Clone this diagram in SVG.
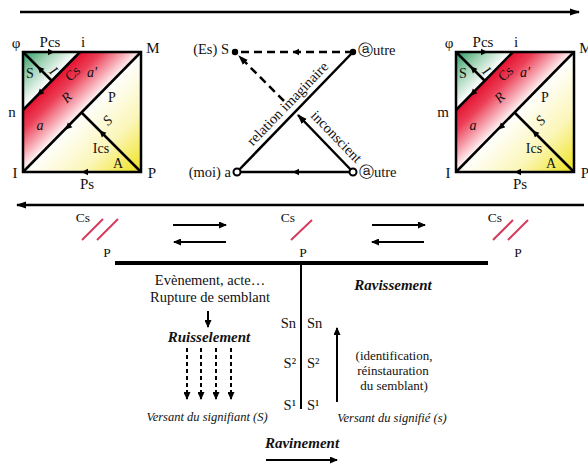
<svg xmlns="http://www.w3.org/2000/svg" xmlns:xlink="http://www.w3.org/1999/xlink" width="588" height="465" viewBox="0 0 588 465">
<style>
text{font-family:'Liberation Serif','Times New Roman',serif}
.t{font-size:14.5px;fill:#111}
.q{font-size:14px}
.o{font-size:15px}
.s{font-size:13.5px}
.m{font-size:14.5px}
.p{font-size:13px}
.it{font-style:italic}
.bi{font-style:italic;font-weight:bold;font-size:15px}
.sm{font-size:12.5px;font-style:italic}
.ln{stroke:#000;stroke-width:2.5;fill:none}
.thin{stroke:#000;stroke-width:2;fill:none}
.red{stroke:#d63a5c;stroke-width:2;fill:none}
.dash{stroke:#000;stroke-width:2.5;fill:none;stroke-dasharray:8,5}
.vd{stroke:#000;stroke-width:2;fill:none;stroke-dasharray:4,3}
</style>
<defs>
<linearGradient id="gGreen" gradientUnits="userSpaceOnUse" x1="37" y1="37" x2="66" y2="66">
<stop offset="0" stop-color="#2a9860"/><stop offset="0.5" stop-color="#9ed2b4"/><stop offset="1" stop-color="#ffffff"/>
</linearGradient>
<linearGradient id="gRed" gradientUnits="userSpaceOnUse" x1="66" y1="66" x2="97" y2="97">
<stop offset="0" stop-color="#e5102e"/><stop offset="0.35" stop-color="#ec4058"/><stop offset="1" stop-color="#fff6f6"/>
</linearGradient>
<linearGradient id="gYel" gradientUnits="userSpaceOnUse" x1="97" y1="97" x2="157" y2="157">
<stop offset="0" stop-color="#ffffff"/><stop offset="0.5" stop-color="#fbf6b8"/><stop offset="1" stop-color="#eee21a"/>
</linearGradient>
<path id="ah" d="M3.5,0 L-3,-3.2 L-3,3.2 Z" fill="#000"/>
<marker id="arr" markerWidth="10" markerHeight="8" refX="9" refY="4" orient="auto" markerUnits="userSpaceOnUse">
<path d="M0,0.5 L10,4 L0,7.5 Z" fill="#000"/>
</marker>
<marker id="arrS" markerWidth="8" markerHeight="7" refX="7" refY="3.5" orient="auto" markerUnits="userSpaceOnUse">
<path d="M0,0 L8,3.5 L0,7 Z" fill="#000"/>
</marker>
<g id="sqArt">
<polygon points="23,52 80,52 23,110" fill="url(#gGreen)"/>
<polygon points="23,110 80,52 141,52 23,172" fill="url(#gRed)"/>
<polygon points="23,172 141,172 141,52" fill="url(#gYel)"/>
<rect x="23" y="52" width="118" height="120" class="ln"/>
<line x1="23" y1="172" x2="141" y2="52" class="ln"/>
<line x1="23" y1="110" x2="80" y2="52" class="ln"/>
<line x1="23" y1="52" x2="51.5" y2="80.5" class="ln"/>
<line x1="141" y1="172" x2="81.5" y2="112.5" class="ln"/>
<use xlink:href="#ah" transform="translate(51,52)"/>
<use xlink:href="#ah" transform="translate(40,69) rotate(-135)"/>
<use xlink:href="#ah" transform="translate(40,93) rotate(135)"/>
<use xlink:href="#ah" transform="translate(68,127) rotate(135)"/>
<use xlink:href="#ah" transform="translate(102,133) rotate(-135)"/>
<use xlink:href="#ah" transform="translate(85,172) rotate(180)"/>
<text class="t o" x="16" y="48" text-anchor="middle">φ</text>
<text class="t o" x="50" y="47" text-anchor="middle">Pcs</text>
<text class="t o" x="83" y="47" text-anchor="middle">i</text>
<text class="t o" x="153" y="53" text-anchor="middle">M</text>
<text class="t o" x="15" y="178" text-anchor="middle">I</text>
<text class="t o" x="152" y="178" text-anchor="middle">P</text>
<text class="t o" x="87" y="189" text-anchor="middle">Ps</text>
<text class="t q" x="30" y="78" text-anchor="middle">S</text>
<text class="t q it" x="0" y="4" text-anchor="middle" transform="translate(53,71) rotate(45)">I</text>
<text class="t q" x="0" y="4" text-anchor="middle" transform="translate(73,74) rotate(-45)">Cs</text>
<text class="t q it" x="92" y="77" text-anchor="middle">a'</text>
<text class="t q it" x="0" y="4" text-anchor="middle" transform="translate(67,98) rotate(-45)">R</text>
<text class="t q it" x="40" y="130" text-anchor="middle">a</text>
<text class="t q" x="112" y="102" text-anchor="middle">P</text>
<text class="t q it" x="0" y="4" text-anchor="middle" transform="translate(108,121) rotate(-45)">S</text>
<text class="t q" x="101" y="153" text-anchor="middle">Ics</text>
<text class="t q" x="118" y="168" text-anchor="middle">A</text>
</g>
</defs>

<g id="connectors">
<line x1="20" y1="12" x2="579" y2="12" class="ln" marker-end="url(#arr)"/>
<line x1="584" y1="205" x2="17" y2="205" class="ln" marker-end="url(#arr)"/>
<line x1="353" y1="52" x2="239" y2="52" class="dash"/>
<line x1="237" y1="172" x2="353" y2="52" class="ln"/>
<line x1="353" y1="172" x2="240" y2="172" class="ln"/>
<line x1="353" y1="172" x2="298" y2="115" class="ln" marker-end="url(#arr)"/>
<line x1="284" y1="101" x2="239" y2="56" class="dash" marker-end="url(#arr)"/>
<use xlink:href="#ah" transform="translate(296,52) rotate(180)"/>
<use xlink:href="#ah" transform="translate(296,172) rotate(180)"/>
<line x1="173" y1="225" x2="226" y2="225" class="thin" marker-end="url(#arrS)"/>
<line x1="226" y1="242" x2="174" y2="242" class="thin" marker-end="url(#arrS)"/>
<line x1="372" y1="225" x2="425" y2="225" class="thin" marker-end="url(#arrS)"/>
<line x1="424" y1="242" x2="372" y2="242" class="thin" marker-end="url(#arrS)"/>
<line x1="115" y1="263" x2="488" y2="263" stroke="#000" stroke-width="4"/>
<line x1="301" y1="263" x2="301" y2="409" class="thin"/>
<line x1="208" y1="311" x2="208" y2="327" class="thin" marker-end="url(#arrS)"/>
<line x1="187" y1="348" x2="187" y2="399" class="vd" marker-end="url(#arrS)"/>
<line x1="201" y1="348" x2="201" y2="399" class="vd" marker-end="url(#arrS)"/>
<line x1="216" y1="348" x2="216" y2="399" class="vd" marker-end="url(#arrS)"/>
<line x1="231" y1="348" x2="231" y2="399" class="vd" marker-end="url(#arrS)"/>
<line x1="337" y1="402" x2="337" y2="328" class="thin" marker-end="url(#arrS)"/>
<line x1="266" y1="460" x2="337" y2="460" class="thin" marker-end="url(#arrS)"/>
</g>

<g id="square-left">
<use xlink:href="#sqArt"/>
<text class="t o" x="12" y="117" text-anchor="middle">n</text>
</g>

<g id="square-right">
<use xlink:href="#sqArt" transform="translate(433,0)"/>
<text class="t o" x="443" y="117" text-anchor="middle">m</text>
</g>

<g id="node-es-s">
<circle cx="235" cy="52" r="3.2" fill="#000"/>
<text class="t m" x="229" y="54" text-anchor="end">(Es) S</text>
</g>
<g id="node-autre-top">
<circle cx="353" cy="52" r="3.2" fill="#000"/>
<text class="t m" x="358" y="55">ⓐutre</text>
</g>
<g id="node-moi-a">
<circle cx="237" cy="172" r="3.5" fill="#fff" stroke="#000" stroke-width="2"/>
<text class="t m" x="231" y="177" text-anchor="end">(moi) a</text>
</g>
<g id="node-autre-bottom">
<circle cx="353" cy="172" r="3.5" fill="#fff" stroke="#000" stroke-width="2"/>
<text class="t m" x="359" y="177">ⓐutre</text>
</g>
<g id="labels-middle">
<text class="t" x="0" y="0" text-anchor="middle" transform="translate(291,107) rotate(-46)">relation imaginaire</text>
<text class="t" x="0" y="0" text-anchor="middle" transform="translate(333,140) rotate(46)">inconscient</text>
</g>

<g id="cs-left">
<text class="t s" x="83" y="222" text-anchor="middle">Cs</text>
<line x1="82" y1="240" x2="103" y2="219" class="red"/>
<line x1="97" y1="240" x2="118" y2="219" class="red"/>
<text class="t s" x="107" y="257" text-anchor="middle">P</text>
</g>
<g id="cs-middle">
<text class="t s" x="288" y="222" text-anchor="middle">Cs</text>
<line x1="291" y1="240" x2="312" y2="220" class="red"/>
<text class="t s" x="303" y="257" text-anchor="middle">P</text>
</g>
<g id="cs-right">
<text class="t s" x="495" y="222" text-anchor="middle">Cs</text>
<line x1="493" y1="240" x2="513" y2="220" class="red"/>
<line x1="508" y1="240" x2="528" y2="220" class="red"/>
<text class="t s" x="518" y="257" text-anchor="middle">P</text>
</g>

<g id="ruisselement">
<text class="t" x="210" y="285" text-anchor="middle">Evènement, acte…</text>
<text class="t" x="210" y="302" text-anchor="middle">Rupture de semblant</text>
<text class="t bi" x="209" y="342" text-anchor="middle">Ruisselement</text>
<text class="t sm" x="207" y="421" text-anchor="middle">Versant du signifiant (S)</text>
</g>
<g id="chain">
<text class="t" x="296" y="328" text-anchor="end">Sn</text>
<text class="t" x="296" y="368" text-anchor="end">S²</text>
<text class="t" x="296" y="410" text-anchor="end">S¹</text>
<text class="t" x="307" y="328">Sn</text>
<text class="t" x="307" y="368">S²</text>
<text class="t" x="307" y="410">S¹</text>
</g>
<g id="ravissement">
<text class="t bi" x="393" y="290" text-anchor="middle">Ravissement</text>
<text class="t p" x="394" y="360" text-anchor="middle">(identification,</text>
<text class="t p" x="393" y="375" text-anchor="middle">réinstauration</text>
<text class="t p" x="394" y="390" text-anchor="middle">du semblant)</text>
<text class="t sm" x="392" y="422" text-anchor="middle">Versant du signifié (s)</text>
</g>
<g id="ravinement">
<text class="t bi" x="302" y="448" text-anchor="middle">Ravinement</text>
</g>
</svg>
